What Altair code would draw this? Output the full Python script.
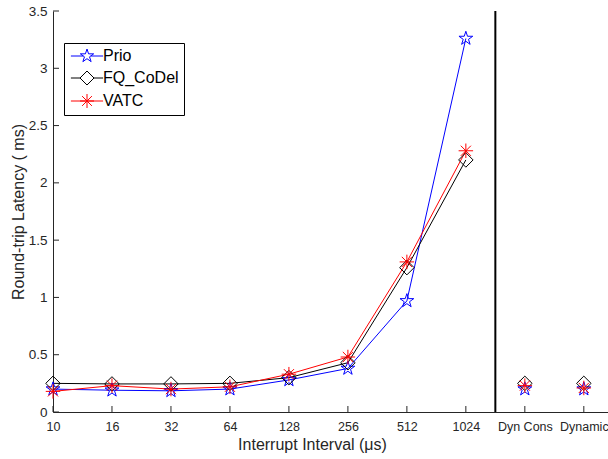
import json
import altair as alt
import pandas as pd

# x positions: swept interrupt intervals (us) followed by the two dynamic modes
labels = ["10", "16", "32", "64", "128", "256", "512", "1024", "Dyn Cons", "Dynamic"]
series_names = ["Prio", "FQ_CoDel", "VATC"]

# round-trip latency in ms
prio = [0.20, 0.19, 0.185, 0.20, 0.28, 0.38, 0.97, 3.26, 0.20, 0.20]
fq_codel = [0.25, 0.245, 0.245, 0.25, 0.30, 0.43, 1.26, 2.20, 0.25, 0.25]
vatc = [0.18, 0.23, 0.20, 0.22, 0.33, 0.48, 1.31, 2.28, 0.23, 0.21]

y_ticks = [0, 0.5, 1, 1.5, 2, 2.5, 3, 3.5]
n_swept = 8           # only the swept intervals are joined by lines
separator_at = 7.5    # divider between swept intervals and dynamic modes

colors = ["#0000ff", "#000000", "#ff0000"]
FONT = "Liberation Sans"
AXIS_COLOR = "#262626"
W, H = 555, 401

rows = []
for name, vals in zip(series_names, [prio, fq_codel, vatc]):
    for i, v in enumerate(vals):
        rows.append({"idx": i, "series": name, "latency": v, "swept": i < n_swept})
df = pd.DataFrame(rows)

# marker outlines (unit box -1..1)
STAR = ("M0,-1L0.225,-0.309L0.951,-0.309L0.363,0.118L0.588,0.809L0,0.382"
        "L-0.588,0.809L-0.363,0.118L-0.951,-0.309L-0.225,-0.309Z")
DIAMOND = "M0,-1L1,0L0,1L-1,0Z"
ASTER = "M-1,0L1,0M0,-1L0,1M-0.7,-0.7L0.7,0.7M-0.7,0.7L0.7,-0.7"
# legend keys carry a short line segment through the marker
KEY_STAR = STAR + "M-2.3,0L-0.53,0M0.53,0L2.3,0"
KEY_DIAMOND = DIAMOND + "M-2.3,0L-1,0M1,0L2.3,0"
KEY_ASTER = ASTER + "M-2.3,0L2.3,0"

label_expr = json.dumps(labels) + "[datum.value]"
x_scale = alt.Scale(domain=[0, 9.41], nice=False, zero=False)
y_scale = alt.Scale(domain=[0, 3.5], nice=False, zero=True)

x_enc = alt.X(
    "idx:Q", scale=x_scale,
    axis=alt.Axis(
        title="Interrupt Interval (μs)", values=list(range(len(labels))),
        labelExpr=label_expr, ticks=False, tickSize=0, grid=False,
        labelPadding=8, labelFontSize=12.5, labelFont=FONT, labelColor=AXIS_COLOR,
        titleFontSize=16, titleFont=FONT, titleFontWeight="normal", titleColor=AXIS_COLOR,
        titlePadding=4, titleX=259, domainColor=AXIS_COLOR, labelOverlap=False,
        labelFlush=False,
    ),
)
y_enc = alt.Y(
    "latency:Q", scale=y_scale,
    axis=alt.Axis(
        title="Round-trip Latency ( ms)", values=y_ticks, format="~g",
        ticks=False, tickSize=0, grid=False,
        labelPadding=6, labelFontSize=13.5, labelFont=FONT, labelColor=AXIS_COLOR,
        titleFontSize=16, titleFont=FONT, titleFontWeight="normal", titleColor=AXIS_COLOR,
        titlePadding=2, domainColor=AXIS_COLOR,
    ),
)

color_scale = alt.Scale(domain=series_names, range=colors)

base = alt.Chart(df)

lines = base.transform_filter("datum.swept").mark_line(strokeWidth=1).encode(
    x=x_enc, y=y_enc,
    color=alt.Color("series:N", scale=color_scale, legend=None),
)

points = base.mark_point(filled=False, strokeWidth=1, size=210, opacity=1).encode(
    x=x_enc, y=y_enc,
    color=alt.Color("series:N", scale=color_scale, legend=None),
    shape=alt.Shape("series:N", scale=alt.Scale(domain=series_names,
                                                range=[STAR, DIAMOND, ASTER]), legend=None),
)

key_legend = alt.Legend(
    title=None, orient="none", legendX=11, legendY=32,
    strokeColor="black", fillColor="white", padding=5, cornerRadius=0,
    labelFont=FONT, labelFontSize=16, labelColor="black", labelLimit=200,
    symbolSize=196, symbolStrokeWidth=1, rowPadding=5, symbolOffset=10, labelOffset=8,
)
key = base.transform_filter("false").mark_point(filled=False, strokeWidth=1, size=196, opacity=1).encode(
    x=x_enc, y=y_enc,
    color=alt.Color("series:N", scale=alt.Scale(domain=series_names, range=colors), legend=key_legend),
    shape=alt.Shape("series:N", scale=alt.Scale(domain=series_names,
                                                range=[KEY_STAR, KEY_DIAMOND, KEY_ASTER]),
                    legend=key_legend),
)

# inward-pointing tick marks
x_tick_df = pd.DataFrame({"idx": list(range(len(labels)))})
x_ticks = alt.Chart(x_tick_df).mark_rule(color=AXIS_COLOR, strokeWidth=1).encode(
    x=x_enc, y=alt.value(H), y2=alt.value(H - 6),
)
y_tick_df = pd.DataFrame({"latency": y_ticks})
y_tick_marks = alt.Chart(y_tick_df).mark_rule(color=AXIS_COLOR, strokeWidth=1).encode(
    y=y_enc, x=alt.value(0), x2=alt.value(6),
)

separator = alt.Chart(pd.DataFrame({"idx": [separator_at]})).mark_rule(
    color="black", strokeWidth=2).encode(
    x=x_enc, y=alt.datum(3.5, scale=y_scale), y2=alt.datum(0),
)

chart = alt.layer(
    x_ticks, y_tick_marks, separator, lines, points, key
).resolve_scale(
    color="independent", shape="independent"
).properties(
    width=W, height=H,
    padding={"left": 53, "top": 11, "right": 0, "bottom": 47},
    autosize=alt.AutoSizeParams(type="none"),
    background="white",
).configure_view(stroke=None)

chart.save("out.html", embed_options={"renderer": "svg", "actions": False})
